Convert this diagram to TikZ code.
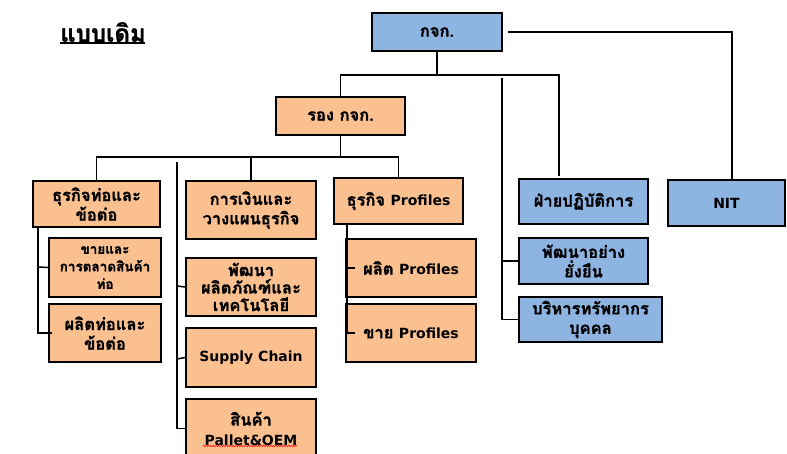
\documentclass[tikz,border=0pt]{standalone}
\usepackage{fontspec}
\usetikzlibrary{decorations.pathmorphing}
\setmainfont[Script=Thai]{Loma}
\newfontfamily\thai[Script=Thai,BoldFeatures={FakeBold=1.2}]{Loma}
\newfontfamily\latin{DejaVu Sans}
\newcommand{\lt}[1]{{\latin\fontsize{14}{17}\selectfont #1}}
\begin{document}
\begin{tikzpicture}[x=1pt,y=-1pt,
  box/.style={draw=black,line width=1.6pt,align=center,inner sep=1pt,
    font=\thai\bfseries\fontsize{16.5}{19.5}\selectfont},
  tight/.style={font=\thai\bfseries\fontsize{16.5}{17.5}\selectfont},
  obox/.style={box,fill={rgb,255:red,250;green,192;blue,144}},
  bbox/.style={box,fill={rgb,255:red,142;green,180;blue,226}},
  con/.style={draw=black,line width=1.5pt}]
\useasboundingbox (0,0) rectangle (787,454);
\clip (0,0) rectangle (787,454);
\fill[white] (0,0) rectangle (787,454);
% title
\node[font=\thai\bfseries\fontsize{24}{26}\selectfont] (title) at (103,32) {แบบเดิม};
\draw[line width=1.4pt] (60,43) -- (145,43);
% top
\node[bbox,minimum width=130,minimum height=38] (kjk) at (437,32) {กจก.};
\node[obox,minimum width=129,minimum height=38] (rong) at (340.5,116) {รอง กจก.};
% left branch
\node[obox,minimum width=112,minimum height=59,font=\thai\bfseries\fontsize{13.5}{17.5}\selectfont] (sale) at (105,267.5) {ขายและ\\การตลาดสินค้า\\ท่อ};
\node[obox,minimum width=127,minimum height=46] (pipe) at (96.5,204) {ธุรกิจท่อและ\\ข้อต่อ};
\node[obox,minimum width=112,minimum height=58] (prod) at (105,333) {ผลิตท่อและ\\ข้อต่อ};
% middle
\node[obox,minimum width=130,minimum height=58] (fin) at (251,210) {การเงินและ\\วางแผนธุรกิจ};
\node[obox,tight,minimum width=130,minimum height=58] (dev) at (251,287) {พัฒนา\\ผลิตภัณฑ์และ\\เทคโนโลยี};
\node[obox,minimum width=130,minimum height=59] (sc) at (251,357.5) {\lt{Supply Chain}};
\node[obox,minimum width=130,minimum height=59] (oem) at (251,428.5) {สินค้า\\\lt{Pallet\&OEM}};
\draw[red,line width=0.5pt,decorate,decoration={zigzag,amplitude=0.8pt,segment length=2.5pt}] (203,446) -- (297,446);
% profiles
\node[obox,minimum width=129,minimum height=46] (prof) at (398.5,201) {ธุรกิจ \lt{Profiles}};
\node[obox,minimum width=130,minimum height=58] (pprof) at (411,268) {ผลิต \lt{Profiles}};
\node[obox,minimum width=130,minimum height=58] (sprof) at (411,333) {ขาย \lt{Profiles}};
% blue right
\node[bbox,minimum width=129,minimum height=45] (ops) at (583.5,201.5) {ฝ่ายปฏิบัติการ};
\node[bbox,minimum width=117,minimum height=46] (nit) at (726.5,203) {\lt{NIT}};
\node[bbox,minimum width=129,minimum height=46] (sus) at (583.5,261) {พัฒนาอย่าง\\ยั่งยืน};
\node[bbox,minimum width=143,minimum height=45] (hr) at (590.5,319.5) {บริหารทรัพยากร\\บุคคล};
% connectors
\coordinate (kr) at (508,32);
\coordinate (nitc) at (732,180);
\draw[con] (kr) -| (nitc);
\coordinate (h1) at (437,75);
\draw[con] (kjk.south) -- (h1);
\draw[con] (rong.north) |- (559,75) -- (559,176);
\coordinate (sv) at (502,78);
\draw[con] (sv) |- (hr.west);
\draw[con] (502,261) -- (sus.west);
\coordinate (h2) at (340.5,157);
\draw[con] (rong.south) -- (h2);
\draw[con] (pipe.north) |- (prof.north |- h2) -- (prof.north);
\draw[con] (fin.north) -- (fin.north |- h2);
\coordinate (mv) at (177,162);
\draw[con] (mv) |- (oem.west);
\draw[con] (177,286) -- (dev.west);
\draw[con] (177,359) -- (sc.west);
\draw[con] (38,227) -- (38,333) -- (52,333);
\draw[con] (38,267) -- (sale.west);
\draw[con] (347,224) -- (347,333) -- (355,333);
\draw[con] (347,268) -- (355,268);
\end{tikzpicture}
\end{document}
